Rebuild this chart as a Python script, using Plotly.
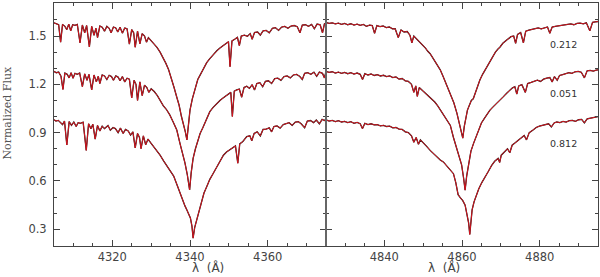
import plotly.graph_objects as go

# ---------------- data: (wavelength [Å], normalized flux) ----------------
# H-gamma panel, three phases (offset spectra)
hg_top = [
    (4305.0, 1.582), (4305.6, 1.575), (4306.2, 1.570), (4306.7, 1.462), (4307.2, 1.572), (4307.8, 1.560),
    (4308.3, 1.540), (4308.8, 1.574), (4309.3, 1.532), (4309.8, 1.570), (4310.4, 1.566), (4311.0, 1.572),
    (4311.7, 1.458), (4312.3, 1.568), (4312.9, 1.520), (4313.4, 1.565), (4314.1, 1.432), (4314.7, 1.560),
    (4315.3, 1.505), (4315.8, 1.548), (4316.2, 1.490), (4316.8, 1.562), (4317.4, 1.555), (4318.0, 1.530),
    (4318.6, 1.560), (4319.2, 1.548), (4319.7, 1.520), (4320.3, 1.556), (4320.9, 1.550), (4321.4, 1.525),
    (4322.0, 1.554), (4322.6, 1.518), (4323.2, 1.550), (4323.8, 1.545), (4324.4, 1.450), (4325.0, 1.540),
    (4325.5, 1.520), (4325.9, 1.430), (4326.5, 1.530), (4327.1, 1.452), (4327.7, 1.515), (4328.3, 1.500),
    (4328.8, 1.462), (4329.3, 1.490), (4330.0, 1.470), (4330.8, 1.452), (4331.5, 1.430), (4332.3, 1.400),
    (4333.0, 1.370), (4333.8, 1.330), (4334.5, 1.290), (4335.2, 1.240), (4335.9, 1.180), (4336.6, 1.120),
    (4337.2, 1.070), (4337.8, 1.000), (4338.3, 0.960), (4338.8, 0.905), (4339.2, 0.855), (4339.6, 0.950),
    (4340.0, 1.040), (4340.6, 1.110), (4341.3, 1.175), (4342.0, 1.230), (4342.7, 1.262), (4343.5, 1.300),
    (4344.3, 1.335), (4345.1, 1.360), (4346.0, 1.385), (4346.9, 1.408), (4347.7, 1.425), (4348.5, 1.440),
    (4349.3, 1.455), (4349.9, 1.465), (4350.3, 1.310), (4350.8, 1.470), (4351.5, 1.480), (4352.2, 1.492),
    (4352.7, 1.440), (4353.2, 1.500), (4354.0, 1.505), (4354.8, 1.498), (4355.5, 1.515), (4356.0, 1.480),
    (4356.6, 1.522), (4357.4, 1.525), (4358.1, 1.505), (4358.8, 1.532), (4359.6, 1.535), (4360.4, 1.520),
    (4361.2, 1.548), (4362.0, 1.552), (4362.8, 1.535), (4363.6, 1.556), (4364.4, 1.560), (4365.2, 1.548),
    (4366.0, 1.562), (4366.8, 1.565), (4367.6, 1.558), (4368.3, 1.520), (4368.9, 1.568), (4369.7, 1.570),
    (4370.5, 1.560), (4371.3, 1.572), (4372.0, 1.545), (4372.7, 1.574), (4373.5, 1.570), (4374.1, 1.520),
    (4374.6, 1.576), (4375.0, 1.578),
]
hg_mid = [
    (4305.0, 1.280), (4305.6, 1.272), (4306.2, 1.276), (4306.8, 1.250), (4307.3, 1.168), (4307.8, 1.270),
    (4308.4, 1.262), (4308.9, 1.240), (4309.4, 1.272), (4309.9, 1.238), (4310.4, 1.268), (4311.0, 1.262),
    (4311.6, 1.270), (4312.3, 1.185), (4312.9, 1.265), (4313.5, 1.225), (4314.0, 1.262), (4314.7, 1.165),
    (4315.3, 1.258), (4315.9, 1.215), (4316.4, 1.250), (4316.8, 1.205), (4317.4, 1.258), (4318.0, 1.252),
    (4318.6, 1.230), (4319.2, 1.256), (4319.8, 1.248), (4320.3, 1.225), (4320.9, 1.252), (4321.5, 1.245),
    (4322.0, 1.222), (4322.6, 1.248), (4323.2, 1.215), (4323.8, 1.238), (4324.4, 1.232), (4325.0, 1.115),
    (4325.6, 1.225), (4326.1, 1.200), (4326.5, 1.100), (4327.1, 1.215), (4327.7, 1.130), (4328.3, 1.195),
    (4328.9, 1.180), (4329.4, 1.150), (4330.0, 1.172), (4330.8, 1.155), (4331.6, 1.130), (4332.3, 1.100),
    (4333.1, 1.068), (4333.9, 1.045), (4334.8, 1.010), (4335.7, 0.965), (4336.6, 0.916), (4337.4, 0.835),
    (4338.1, 0.775), (4338.7, 0.712), (4339.3, 0.640), (4339.9, 0.544), (4340.3, 0.650), (4340.8, 0.740),
    (4341.4, 0.800), (4342.0, 0.850), (4342.6, 0.895), (4343.3, 0.930), (4343.9, 0.960), (4344.5, 0.995),
    (4345.1, 1.030), (4345.9, 1.055), (4346.8, 1.080), (4347.7, 1.100), (4348.5, 1.115), (4349.3, 1.130),
    (4350.0, 1.145), (4350.5, 1.150), (4350.9, 1.000), (4351.4, 1.158), (4352.0, 1.165), (4352.7, 1.170),
    (4353.3, 1.120), (4353.9, 1.180), (4354.6, 1.188), (4355.3, 1.175), (4356.0, 1.198), (4356.6, 1.165),
    (4357.2, 1.205), (4358.0, 1.210), (4358.7, 1.185), (4359.4, 1.218), (4360.2, 1.222), (4361.0, 1.205),
    (4361.8, 1.235), (4362.6, 1.238), (4363.4, 1.225), (4364.2, 1.248), (4365.0, 1.252), (4365.8, 1.240),
    (4366.6, 1.258), (4367.4, 1.262), (4368.2, 1.250), (4368.9, 1.230), (4369.5, 1.268), (4370.3, 1.272),
    (4371.1, 1.262), (4371.9, 1.275), (4372.6, 1.250), (4373.3, 1.276), (4374.1, 1.268), (4374.6, 1.240),
    (4375.0, 1.278),
]
hg_bot = [
    (4305.0, 0.980), (4305.5, 0.972), (4306.1, 0.976), (4306.7, 0.965), (4307.2, 0.950), (4307.7, 0.972),
    (4308.3, 0.823), (4308.9, 0.968), (4309.5, 0.945), (4310.1, 0.966), (4310.7, 0.938), (4311.2, 0.962),
    (4311.8, 0.958), (4312.5, 0.965), (4313.3, 0.790), (4313.9, 0.955), (4314.5, 0.925), (4315.0, 0.952),
    (4315.6, 0.860), (4316.2, 0.945), (4316.8, 0.910), (4317.4, 0.940), (4318.0, 0.925), (4318.9, 0.944),
    (4319.5, 0.915), (4320.2, 0.932), (4320.8, 0.925), (4321.5, 0.900), (4322.1, 0.928), (4322.8, 0.895),
    (4323.4, 0.920), (4324.1, 0.910), (4324.7, 0.885), (4325.3, 0.905), (4325.9, 0.805), (4326.5, 0.895),
    (4327.0, 0.870), (4327.4, 0.800), (4328.0, 0.880), (4328.6, 0.825), (4329.2, 0.860), (4329.8, 0.840),
    (4330.4, 0.822), (4331.2, 0.800), (4332.3, 0.760), (4333.2, 0.725), (4334.0, 0.695), (4334.9, 0.668),
    (4335.8, 0.630), (4336.6, 0.580), (4337.4, 0.525), (4338.1, 0.480), (4338.7, 0.445), (4339.2, 0.420),
    (4339.7, 0.395), (4340.1, 0.370), (4340.5, 0.320), (4340.8, 0.245), (4341.2, 0.310), (4341.7, 0.357),
    (4342.3, 0.420), (4343.0, 0.480), (4343.6, 0.525), (4344.3, 0.564), (4345.1, 0.610), (4346.0, 0.648),
    (4346.9, 0.690), (4347.8, 0.728), (4348.6, 0.760), (4349.4, 0.780), (4350.2, 0.795), (4351.1, 0.812),
    (4351.7, 0.818), (4352.3, 0.710), (4352.8, 0.830), (4353.6, 0.845), (4354.6, 0.875), (4355.4, 0.880),
    (4355.9, 0.850), (4356.5, 0.895), (4357.3, 0.905), (4358.1, 0.880), (4358.8, 0.920), (4359.6, 0.922),
    (4360.4, 0.930), (4361.0, 0.905), (4361.6, 0.938), (4362.4, 0.942), (4363.2, 0.928), (4364.0, 0.950),
    (4364.8, 0.955), (4365.5, 0.962), (4366.3, 0.945), (4367.1, 0.965), (4367.9, 0.968), (4368.6, 0.955),
    (4369.5, 0.930), (4370.2, 0.972), (4371.0, 0.975), (4371.8, 0.962), (4372.5, 0.978), (4373.3, 0.955),
    (4374.0, 0.982), (4374.6, 0.975), (4375.0, 0.985),
]

# H-beta panel, same three phases
hb_top = [
    (4825.0, 1.584), (4825.8, 1.578), (4826.6, 1.582), (4827.4, 1.575), (4828.2, 1.580), (4829.0, 1.572),
    (4829.8, 1.578), (4830.6, 1.570), (4831.4, 1.576), (4832.2, 1.568), (4833.0, 1.574), (4833.8, 1.566),
    (4834.6, 1.572), (4835.4, 1.560), (4836.2, 1.568), (4836.9, 1.565), (4837.5, 1.517), (4838.1, 1.565),
    (4838.9, 1.558), (4839.7, 1.562), (4840.5, 1.552), (4841.3, 1.556), (4842.1, 1.545), (4842.8, 1.545),
    (4843.6, 1.490), (4844.3, 1.538), (4845.1, 1.525), (4845.9, 1.528), (4846.6, 1.505), (4847.1, 1.458),
    (4847.6, 1.500), (4848.4, 1.480), (4849.2, 1.462), (4849.9, 1.440), (4850.6, 1.425), (4851.2, 1.405),
    (4851.8, 1.390), (4852.6, 1.360), (4853.5, 1.325), (4854.4, 1.290), (4855.2, 1.245), (4856.1, 1.195),
    (4857.0, 1.145), (4857.9, 1.085), (4858.7, 1.020), (4859.3, 0.960), (4859.8, 0.910), (4860.2, 0.866),
    (4860.6, 0.940), (4861.0, 1.000), (4861.4, 1.040), (4861.9, 1.070), (4862.4, 1.100), (4862.9, 1.110),
    (4863.5, 1.150), (4864.0, 1.190), (4864.6, 1.227), (4865.3, 1.262), (4866.0, 1.292), (4866.6, 1.315),
    (4867.2, 1.345), (4867.9, 1.375), (4868.6, 1.400), (4869.2, 1.418), (4869.8, 1.432), (4870.5, 1.455),
    (4871.3, 1.472), (4872.0, 1.488), (4872.6, 1.496), (4873.3, 1.500), (4873.8, 1.455), (4874.3, 1.510),
    (4875.1, 1.522), (4875.8, 1.458), (4876.4, 1.530), (4877.2, 1.536), (4878.0, 1.540), (4878.8, 1.545),
    (4879.6, 1.550), (4880.4, 1.544), (4881.2, 1.552), (4882.0, 1.556), (4882.6, 1.517), (4883.2, 1.556),
    (4884.0, 1.560), (4884.8, 1.562), (4885.6, 1.566), (4886.4, 1.568), (4887.2, 1.572), (4888.0, 1.575),
    (4888.8, 1.570), (4889.6, 1.578), (4890.4, 1.580), (4891.2, 1.576), (4892.0, 1.582), (4892.9, 1.532),
    (4893.6, 1.585), (4894.3, 1.588), (4895.0, 1.590),
]
hb_mid = [
    (4825.0, 1.280), (4825.8, 1.274), (4826.6, 1.278), (4827.4, 1.270), (4828.2, 1.276), (4829.0, 1.268),
    (4829.8, 1.274), (4830.6, 1.266), (4831.4, 1.272), (4832.2, 1.264), (4833.0, 1.270), (4833.8, 1.262),
    (4834.4, 1.230), (4835.0, 1.266), (4835.8, 1.258), (4836.6, 1.264), (4837.4, 1.255), (4838.2, 1.260),
    (4839.0, 1.252), (4839.8, 1.256), (4840.6, 1.248), (4841.4, 1.252), (4842.2, 1.242), (4843.0, 1.246),
    (4843.8, 1.232), (4844.6, 1.236), (4845.4, 1.222), (4846.2, 1.218), (4847.0, 1.200), (4847.6, 1.150),
    (4848.1, 1.190), (4848.5, 1.125), (4849.0, 1.180), (4849.8, 1.162), (4850.6, 1.145), (4851.4, 1.130),
    (4852.2, 1.112), (4853.0, 1.090), (4853.8, 1.065), (4854.6, 1.035), (4855.4, 1.005), (4856.2, 0.975),
    (4857.0, 0.945), (4857.8, 0.870), (4858.7, 0.790), (4859.3, 0.740), (4859.9, 0.700), (4860.4, 0.620),
    (4860.8, 0.543), (4861.2, 0.630), (4861.7, 0.710), (4862.3, 0.785), (4863.0, 0.835), (4863.7, 0.880),
    (4864.4, 0.925), (4865.0, 0.960), (4865.8, 0.990), (4866.5, 1.015), (4867.2, 1.040), (4868.0, 1.060),
    (4868.9, 1.080), (4869.8, 1.100), (4870.6, 1.122), (4871.5, 1.145), (4872.3, 1.165), (4873.0, 1.178),
    (4873.6, 1.185), (4874.1, 1.140), (4874.6, 1.190), (4875.4, 1.198), (4876.3, 1.150), (4876.9, 1.205),
    (4877.8, 1.212), (4878.6, 1.220), (4879.4, 1.226), (4880.2, 1.218), (4881.0, 1.232), (4881.8, 1.238),
    (4882.6, 1.242), (4883.2, 1.215), (4883.8, 1.248), (4884.5, 1.225), (4885.1, 1.255), (4885.9, 1.260),
    (4886.7, 1.264), (4887.5, 1.272), (4888.3, 1.268), (4889.1, 1.278), (4889.9, 1.280), (4890.7, 1.275),
    (4891.5, 1.240), (4892.2, 1.284), (4893.0, 1.286), (4893.8, 1.282), (4894.5, 1.288), (4895.0, 1.290),
]
hb_bot = [
    (4825.0, 0.980), (4825.8, 0.972), (4826.6, 0.976), (4827.4, 0.968), (4828.2, 0.974), (4829.0, 0.966),
    (4829.8, 0.970), (4830.6, 0.962), (4831.4, 0.968), (4832.2, 0.958), (4833.0, 0.964), (4833.8, 0.955),
    (4834.4, 0.925), (4835.0, 0.958), (4835.8, 0.950), (4836.6, 0.955), (4837.4, 0.948), (4838.2, 0.950),
    (4839.0, 0.942), (4839.8, 0.945), (4840.6, 0.938), (4841.4, 0.940), (4842.2, 0.930), (4843.0, 0.932),
    (4843.8, 0.922), (4844.6, 0.920), (4845.4, 0.905), (4846.2, 0.900), (4847.0, 0.880), (4847.6, 0.840),
    (4848.2, 0.870), (4848.8, 0.828), (4849.3, 0.855), (4850.1, 0.838), (4850.9, 0.815), (4851.8, 0.790),
    (4852.7, 0.768), (4853.6, 0.745), (4854.4, 0.730), (4855.2, 0.718), (4856.1, 0.695), (4857.0, 0.672),
    (4857.8, 0.645), (4858.4, 0.590), (4859.0, 0.515), (4859.6, 0.495), (4860.2, 0.478), (4860.8, 0.450),
    (4861.3, 0.400), (4861.7, 0.340), (4862.0, 0.268), (4862.3, 0.350), (4862.6, 0.420), (4863.1, 0.470),
    (4863.5, 0.500), (4864.3, 0.550), (4865.1, 0.590), (4865.9, 0.620), (4866.8, 0.660), (4867.6, 0.695),
    (4868.4, 0.722), (4869.3, 0.740), (4869.7, 0.715), (4870.1, 0.760), (4870.9, 0.780), (4871.7, 0.800),
    (4872.3, 0.775), (4872.9, 0.822), (4873.6, 0.835), (4874.4, 0.850), (4875.2, 0.865), (4876.0, 0.882),
    (4876.6, 0.855), (4877.3, 0.900), (4878.2, 0.915), (4879.1, 0.932), (4879.9, 0.940), (4880.7, 0.945),
    (4881.5, 0.950), (4882.3, 0.955), (4883.0, 0.935), (4883.7, 0.960), (4884.4, 0.966), (4885.2, 0.962),
    (4886.0, 0.970), (4886.8, 0.965), (4887.6, 0.974), (4888.4, 0.976), (4889.2, 0.970), (4890.0, 0.980),
    (4890.8, 0.982), (4891.5, 0.960), (4892.2, 0.985), (4893.0, 0.990), (4893.8, 0.994), (4894.5, 0.998),
    (4895.0, 1.000),
]

phase_labels = ["0.212", "0.051", "0.812"]
phase_label_flux = [1.45, 1.146, 0.835]
phase_label_wl = 4886.2

x_range_left = [4305, 4375]
x_range_right = [4825, 4895]
y_range = [0.196, 1.705]
x_ticks_left = [4320, 4340, 4360]
x_ticks_right = [4840, 4860, 4880]
y_ticks = [0.3, 0.6, 0.9, 1.2, 1.5]

OBS = "#1a1a1a"
MODEL = "#d4141e"
AX = "#444444"
TICKFONT = dict(family="DejaVu Sans", size=11.5, color="#444444")

fig = go.Figure()
for spec, xa, ya in [(hg_top, "x", "y"), (hg_mid, "x", "y"), (hg_bot, "x", "y"),
                     (hb_top, "x2", "y2"), (hb_mid, "x2", "y2"), (hb_bot, "x2", "y2")]:
    wl = [p[0] for p in spec]
    fl = [p[1] for p in spec]
    fig.add_trace(go.Scatter(x=wl, y=fl, mode="lines", xaxis=xa, yaxis=ya,
                             line=dict(color=OBS, width=1.3), hoverinfo="skip"))
    fig.add_trace(go.Scatter(x=wl, y=fl, mode="lines", xaxis=xa, yaxis=ya,
                             line=dict(color=MODEL, width=1.0), hoverinfo="skip"))

for lab, fy in zip(phase_labels, phase_label_flux):
    fig.add_annotation(x=phase_label_wl, y=fy, xref="x2", yref="y2", text=lab, showarrow=False,
                       font=dict(family="DejaVu Sans", size=9.5, color="#333333"))


def xaxis(rng, ticks, dom, anchor):
    return dict(domain=dom, range=rng, anchor=anchor, tickvals=ticks, ticks="inside", ticklen=6,
                tickcolor=AX, tickwidth=1, showline=True, linecolor=AX, linewidth=1, mirror="ticks",
                showgrid=False, zeroline=False, tickfont=TICKFONT,
                minor=dict(dtick=5, tick0=0, ticks="inside", ticklen=3, tickcolor=AX, showgrid=False))


def yaxis(anchor, labels):
    return dict(range=y_range, anchor=anchor, tickvals=y_ticks, ticktext=[f"{v:.1f}" for v in y_ticks],
                ticks="inside", ticklen=6, tickcolor=AX, showline=True, linecolor=AX, linewidth=1,
                mirror="ticks", showgrid=False, zeroline=False, showticklabels=labels, tickfont=TICKFONT,
                ticklabelstandoff=4,
                minor=dict(dtick=0.1, tick0=0, ticks="inside", ticklen=3, tickcolor=AX, showgrid=False))


fig.update_layout(
    width=600, height=277, margin=dict(l=54, r=2, t=3, b=31),
    paper_bgcolor="white", plot_bgcolor="white", showlegend=False,
    xaxis=xaxis(x_range_left, x_ticks_left, [0, 0.5], "y"),
    xaxis2=xaxis(x_range_right, x_ticks_right, [0.5, 1], "y2"),
    yaxis=yaxis("x", True),
    yaxis2=yaxis("x2", False),
)

# axis titles
for xc in [0.25, 0.75]:
    fig.add_annotation(x=xc, y=-0.09, xref="paper", yref="paper", text="λ  (Å)", showarrow=False,
                       yanchor="middle", font=dict(family="DejaVu Sans", size=12, color="#444444"))
fig.add_annotation(x=-0.0855, y=0.551, xref="paper", yref="paper", text="Normalized Flux", showarrow=False,
                   textangle=-90, xanchor="center", yanchor="middle",
                   font=dict(family="DejaVu Serif", size=11, color="#555555"))

# thick divider between the two panels
fig.add_shape(type="line", xref="paper", yref="paper", x0=0.5, x1=0.5, y0=0, y1=1,
              line=dict(color="#666666", width=2))

fig.write_html("out.html", config={"displayModeBar": False},
               post_script="document.body.style.margin='0';document.body.style.overflow='hidden';")
